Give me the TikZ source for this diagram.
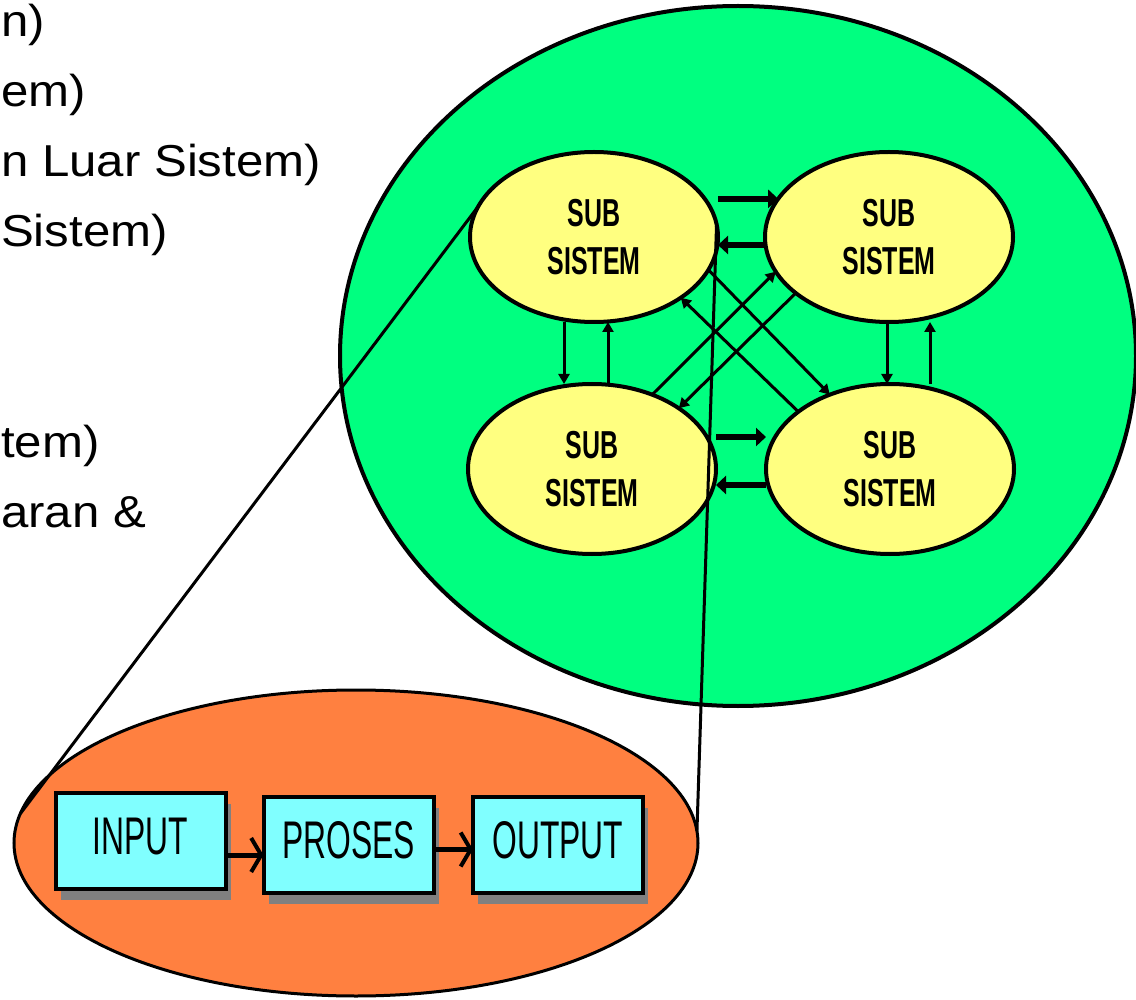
\documentclass[tikz,border=0pt]{standalone}
\usepackage{fontspec}
\setmainfont{Liberation Sans}
\newfontfamily\slidefont[FakeStretch=1.1]{Liberation Sans}
\newfontfamily\subfont[FakeStretch=0.64]{Liberation Sans}
\newfontfamily\boxfont[FakeStretch=0.6]{Liberation Sans}
\usepackage{xcolor}
\usepackage{tikz}
\usetikzlibrary{arrows.meta,shapes.geometric,shadows}

\definecolor{sysgreen}{RGB}{0,255,128}
\definecolor{subyellow}{RGB}{255,255,128}
\definecolor{iorange}{RGB}{255,128,64}
\definecolor{boxcyan}{RGB}{128,255,255}
\definecolor{shadowgray}{RGB}{128,128,128}

\tikzset{
  slidetext/.style={anchor=base west, inner sep=0pt, font=\slidefont\fontsize{44.7}{50}\selectfont},
  sysellipse/.style={ellipse, draw, line width=4pt, fill=sysgreen, inner sep=0pt, outer sep=0pt, minimum width=796pt, minimum height=700pt},
  subellipse/.style={ellipse, draw, line width=4pt, fill=subyellow, inner sep=0pt, outer sep=0pt, minimum width=248pt, minimum height=170pt, align=center, font=\subfont\bfseries\fontsize{39}{48}\selectfont},
  ioellipse/.style={ellipse, draw, line width=3pt, fill=iorange, inner sep=0pt, outer sep=0pt, minimum width=684pt, minimum height=306pt},
  iobox/.style={rectangle, draw, line width=4pt, fill=boxcyan, inner sep=0pt, outer sep=0pt, minimum width=170pt, minimum height=96pt, font=\boxfont\fontsize{53}{60}\selectfont, drop shadow={shadow xshift=5pt, shadow yshift=-11pt, fill=shadowgray, opacity=1}},
  thinarrow/.style={line width=3pt, -{Triangle[length=10pt,width=11pt]}},
  thickarrow/.style={line width=6pt, -{Triangle[length=10pt,width=18pt]}},
  flowarrow/.style={line width=5pt, -{Straight Barb[length=10pt,width=34pt,line width=4pt]}},
  zoomline/.style={line width=3pt}
}

\begin{document}
\begin{tikzpicture}[x=1pt, y=-1pt]
	\clip (0,0) rectangle (1136,1000);
	% slide text at the left edge
	\node[slidetext] (t1) at (1,37) {n)};
	\node[slidetext] (t2) at (1,107) {em)};
	\node[slidetext] (t3) at (1,177) {n Luar Sistem)};
	\node[slidetext] (t4) at (1,247) {Sistem)};
	\node[slidetext] (t5) at (1,457) {tem)};
	\node[slidetext] (t6) at (1,527) {aran \&};
	% system with its four sub systems
	\node[sysellipse] (sys) at (738,356) {};
	\node[subellipse] (tl) at (594,237) {SUB\\SISTEM};
	\node[subellipse] (tr) at (889,237) {SUB\\SISTEM};
	\node[subellipse] (bl) at (592,469) {SUB\\SISTEM};
	\node[subellipse] (br) at (890,469) {SUB\\SISTEM};
	% horizontal links
	\draw[thickarrow] (tl.east |- tr.161) -- (tr.161);
	\draw[thickarrow] ([yshift=-8pt]tr.west) -- ([yshift=-8pt]tr.west -| tl.east);
	\draw[thickarrow] ([yshift=32pt]bl.east) -- ([yshift=32pt]bl.east -| br.west);
	\draw[thickarrow] ([yshift=-16pt]br.west) -- ([yshift=-16pt]br.west -| bl.east);
	% vertical links
	\draw[thinarrow] ([xshift=-30pt]tl.south) -- ([xshift=-30pt]tl.south |- bl.north);
	\draw[thinarrow] ([xshift=16pt]bl.north) -- ([xshift=16pt]bl.north |- tl.south);
	\draw[thinarrow] ([xshift=-2pt]tr.south) -- ([xshift=-2pt]tr.south |- br.north);
	\draw[thinarrow] ([xshift=40pt]br.north) -- ([xshift=40pt]br.north |- tr.south);
	% diagonal links
	\draw[thinarrow] (tl.-16) -- (br.129);
	\draw[thinarrow] (br.148) -- (tl.-35);
	\draw[thinarrow] (bl.51) -- (tr.197);
	\draw[thinarrow] (tr.211) -- (bl.35);
	% one sub system, zoomed in
	\node[ioellipse] (io) at (356,843) {};
	\draw[zoomline] (tl.165) -- (io.175);
	\draw[zoomline] (tl.6) -- (io.2);
	\node[iobox] (in) at (140.5,841) {\raisebox{9pt}{INPUT}};
	\node[iobox] (pro) at (348.5,844.5) {\raisebox{9pt}{PROSES}};
	\node[iobox] (out) at (558,844.5) {\raisebox{9pt}{OUTPUT}};
	\draw[flowarrow] ([yshift=-14pt]in.east) -- ([yshift=-14pt]in.east -| pro.west);
	\draw[flowarrow] ([yshift=-5pt]pro.east) -- ([yshift=-5pt]pro.east -| out.west);
\end{tikzpicture}
\end{document}
